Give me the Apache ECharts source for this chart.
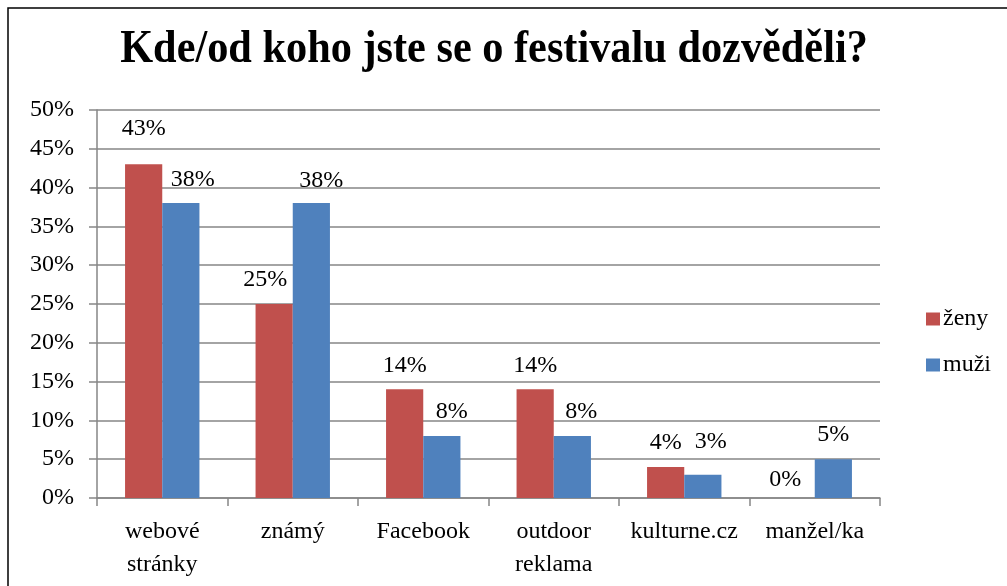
<!DOCTYPE html>
<html>
<head>
<meta charset="utf-8">
<script src="https://cdn.jsdelivr.net/npm/echarts@6/dist/echarts.min.js"></script>
<style>
html,body{margin:0;padding:0;background:#fff;}
#c{width:1007px;height:586px;}
</style>
</head>
<body>
<div id="c"></div>
<script>
var titleText = 'Kde/od koho jste se o festivalu dozvěděli?';
var categories = ['webové\nstránky', 'známý', 'Facebook', 'outdoor\nreklama', 'kulturne.cz', 'manžel/ka'];
var seriesNames = ['ženy', 'muži'];
var zeny = [43, 25, 14, 14, 4, 0];
var muzi = [38, 38, 8, 8, 3, 5];
var yTicks = [0, 5, 10, 15, 20, 25, 30, 35, 40, 45, 50];

// label nudges (styling only)
var zenyOff = [[0,-12],[-9,0],[0,0],[0,0],[0,0],[-11,6]];
var muziOff = [[12,1],[10,2],[10,0],[9,0],[8,-9],[0,0]];

var FONT = '"Liberation Serif", "Times New Roman", serif';

function build(vals, offs) {
  return vals.map(function (v, i) {
    return { value: v, label: { offset: offs[i] } };
  });
}

var chart = echarts.init(document.getElementById('c'));
chart.setOption({
  animation: false,
  backgroundColor: '#fff',
  graphic: [{
    type: 'rect',
    shape: { x: 8, y: 8, width: 1100, height: 700 },
    style: { fill: 'none', stroke: '#000', lineWidth: 1.5 },
    silent: true
  }, {
    type: 'text',
    x: 494,
    y: 50,
    scaleX: 0.92,
    style: {
      text: titleText,
      fontFamily: FONT,
      fontWeight: 'bold',
      fontSize: 46,
      fill: '#000',
      align: 'center',
      verticalAlign: 'middle'
    },
    silent: true
  }],
  legend: {
    orient: 'vertical',
    left: 921,
    top: 302,
    itemWidth: 14,
    itemHeight: 13,
    itemGap: 22,
    icon: 'rect',
    data: seriesNames,
    textStyle: { fontFamily: FONT, fontSize: 24, color: '#000', padding: [0, 0, 0, -2] }
  },
  grid: { left: 97, right: 127, top: 110, bottom: 88, containLabel: false },
  xAxis: {
    type: 'category',
    data: categories,
    axisLine: { lineStyle: { color: '#868686', width: 1.5 } },
    axisTick: { show: true, length: 8, lineStyle: { color: '#868686', width: 1.5 } },
    axisLabel: { interval: 0, margin: 17, fontFamily: FONT, fontSize: 24, color: '#000', lineHeight: 33 }
  },
  yAxis: {
    type: 'value',
    min: yTicks[0],
    max: yTicks[yTicks.length - 1],
    interval: 5,
    axisLine: { show: true, lineStyle: { color: '#868686', width: 1.5 } },
    axisTick: { show: true, length: 8, lineStyle: { color: '#868686', width: 1.5 } },
    splitLine: { show: true, lineStyle: { color: '#868686', width: 1.5 } },
    axisLabel: { margin: 23, fontFamily: FONT, fontSize: 24, color: '#000', formatter: '{value}%' }
  },
  series: [
    {
      name: seriesNames[0],
      type: 'bar',
      data: build(zeny, zenyOff),
      itemStyle: { color: '#C0504D' },
      barGap: '0%',
      barCategoryGap: '43%',
      label: { show: true, position: 'top', distance: 12, formatter: '{c}%', fontFamily: FONT, fontSize: 24, color: '#000' }
    },
    {
      name: seriesNames[1],
      type: 'bar',
      data: build(muzi, muziOff),
      itemStyle: { color: '#4F81BD' },
      barGap: '0%',
      barCategoryGap: '43%',
      label: { show: true, position: 'top', distance: 12, formatter: '{c}%', fontFamily: FONT, fontSize: 24, color: '#000' }
    }
  ]
});
</script>
</body>
</html>
